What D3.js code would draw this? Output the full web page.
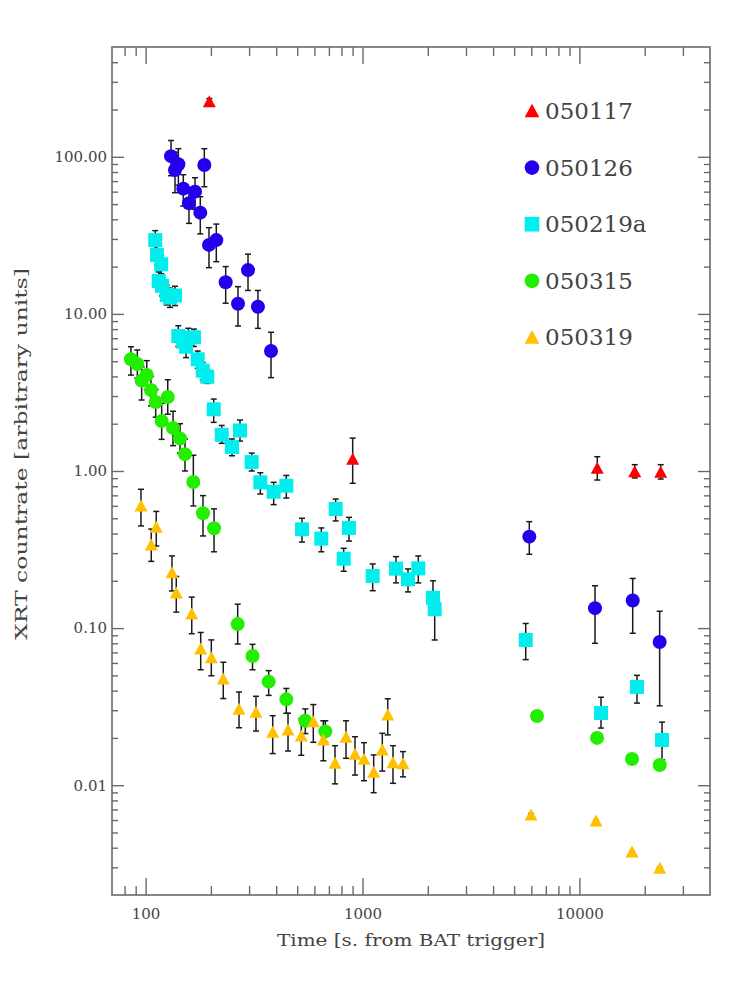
<!DOCTYPE html>
<html><head><meta charset="utf-8">
<script src="https://cdn.jsdelivr.net/npm/d3@7"></script>
<style>html,body{margin:0;padding:0;background:#fff}</style>
</head><body>
<svg id="chart" width="747" height="995"></svg>
<script>
// ---------------- DATA ----------------
const seriesNames = ["050117", "050126", "050219a", "050315", "050319"];
const seriesColors = ["#ff0000", "#2200ee", "#00eeee", "#22ee00", "#ffc000"];
const seriesSymbols = ["triangle", "circle", "square", "circle", "triangle"];

// 050117
const t050117 = [196.7, 901, 12090, 17990, 23700];
const v050117 = [224, 1.187, 1.04, 0.99, 0.981];
const lo050117 = [214, 0.835, 0.876, 0.903, 0.889];
const hi050117 = [235, 1.62, 1.233, 1.097, 1.097];

// 050126
const t050126 = [131, 141.6, 136.6, 186.5, 149.2, 169, 158.5, 178.7, 196, 211.8, 234, 296.6, 266.7, 329.6, 378.6, 5875, 11800, 17610, 23440];
const v050126 = [101, 89.6, 82.4, 88.7, 62.7, 60, 50.6, 44.1, 27.5, 29.5, 15.9, 19.0, 11.6, 11.1, 5.8, 0.382, 0.134, 0.150, 0.0815];
const lo050126 = [75.8, 66, 59.1, 64.5, 48.6, 46.3, 37.7, 32.3, 19.7, 21.5, 11.7, 14.1, 8.37, 8.09, 3.93, 0.295, 0.080, 0.0927, 0.032];
const hi050126 = [127, 112.6, 107, 112.6, 76.9, 73.6, 62.7, 55.7, 35.4, 37.3, 20, 24, 14.9, 14.1, 7.64, 0.476, 0.186, 0.207, 0.128];

// 050219a
const t050219a = [110.8, 112.9, 118.1, 114.9, 119, 125.1, 129.6, 136.6, 141.5, 149.2, 157.4, 167.1, 153.6, 173.9, 183.4, 192.5, 206.1, 224.4, 272.4, 250.2, 308.4, 338, 389.5, 445.4, 526.1, 645.7, 752.2, 866.6, 819, 1114, 1427, 1621, 1808, 2113, 2152, 5655, 12580, 18430, 24040];
const v050219a = [29.5, 23.7, 20.7, 16.2, 15.1, 13.2, 12.7, 13.1, 7.23, 6.65, 7.0, 7.1, 6.18, 5.14, 4.35, 3.98, 2.47, 1.70, 1.81, 1.42, 1.14, 0.847, 0.738, 0.806, 0.4255, 0.371, 0.573, 0.434, 0.2765, 0.2146, 0.239, 0.2045, 0.240, 0.156, 0.1317, 0.084, 0.0288, 0.0422, 0.0194];
const lo050219a = [25.5, 20.5, 18, 14, 13, 11.4, 11, 11.3, 6.2, 5.7, 6.0, 6.2, 5.27, 4.5, 3.8, 3.61, 2.04, 1.5, 1.55, 1.25, 1.0, 0.714, 0.611, 0.673, 0.353, 0.306, 0.481, 0.358, 0.23, 0.173, 0.194, 0.170, 0.194, 0.124, 0.084, 0.063, 0.0231, 0.0333, 0.0145];
const hi050219a = [33.9, 27, 23.5, 18.5, 17.3, 15.2, 14.6, 15, 8.41, 7.7, 8.1, 8.0, 7.1, 5.8, 4.9, 4.4, 2.87, 1.95, 2.11, 1.6, 1.3, 0.975, 0.847, 0.937, 0.50, 0.434, 0.663, 0.507, 0.322, 0.256, 0.285, 0.238, 0.288, 0.200, 0.16, 0.107, 0.0363, 0.050, 0.0252];

// 050315
const t050315 = [85.6, 91.6, 101.2, 95.9, 105.9, 111.3, 118.6, 126.5, 133.8, 144.1, 151.9, 166, 183.9, 206.8, 265.8, 311.1, 369.4, 445.4, 544.8, 673.8, 6375, 12060, 17480, 23460];
const v050315 = [5.14, 4.80, 4.08, 3.76, 3.28, 2.75, 2.08, 2.96, 1.88, 1.61, 1.28, 0.851, 0.538, 0.432, 0.106, 0.0665, 0.0456, 0.0352, 0.0257, 0.0220, 0.0276, 0.0200, 0.01468, 0.01345];
const lo050315 = [4.08, 3.9, 3.3, 2.83, 2.6, 2.2, 1.59, 2.3, 1.45, 1.3, 1.0, 0.599, 0.386, 0.306, 0.0792, 0.0543, 0.0373, 0.0287, 0.0213, 0.0188, 0.0266, 0.0194, 0.0143, 0.0131];
const hi050315 = [6.18, 5.89, 5.04, 4.6, 4.0, 3.3, 2.7, 3.81, 2.4, 2.0, 1.6, 1.26, 0.697, 0.574, 0.142, 0.0788, 0.0536, 0.0413, 0.0306, 0.0257, 0.0286, 0.0206, 0.0151, 0.0138];

// 050319
const t050319 = [95.2, 112, 106.2, 132.3, 138.5, 163.2, 179.5, 200.9, 228.1, 269.6, 322.8, 385.5, 453.5, 522.2, 593.2, 659.8, 746.8, 839.3, 923.5, 1016, 1126, 1234, 1307, 1382, 1537, 5983, 11930, 17480, 23460];
const v050319 = [0.599, 0.438, 0.338, 0.2253, 0.1673, 0.1230, 0.0736, 0.0648, 0.0474, 0.0304, 0.0291, 0.0217, 0.02245, 0.02056, 0.02536, 0.0194, 0.01378, 0.0202, 0.01573, 0.01462, 0.01208, 0.01675, 0.028, 0.0139, 0.0137, 0.00646, 0.00592, 0.003757, 0.00296];
const lo050319 = [0.447, 0.333, 0.266, 0.1724, 0.1264, 0.0921, 0.0543, 0.0497, 0.0356, 0.0232, 0.0221, 0.0159, 0.0165, 0.0155, 0.01875, 0.0143, 0.0102, 0.01483, 0.0116, 0.01068, 0.00896, 0.0123, 0.0209, 0.01028, 0.0113, 0.0063, 0.0058, 0.0037, 0.00292];
const hi050319 = [0.765, 0.553, 0.427, 0.288, 0.2131, 0.1575, 0.0938, 0.0841, 0.0606, 0.0392, 0.0368, 0.0277, 0.0287, 0.0265, 0.0326, 0.0257, 0.01784, 0.0257, 0.02035, 0.01865, 0.01557, 0.0214, 0.0355, 0.01784, 0.01636, 0.0066, 0.0060, 0.0038, 0.0030];

// axes
const xDomain = [70, 40000];
const yDomain = [0.002, 500];
const xMajorTicks = [100, 1000, 10000];
const xMinorTicks = [80, 90, 200, 300, 400, 500, 600, 700, 800, 900, 2000, 3000, 4000, 5000, 6000, 7000, 8000, 9000, 20000, 30000];
const yMajorTicks = [0.01, 0.1, 1, 10, 100];
const yMinorTicks = [0.003, 0.004, 0.005, 0.006, 0.007, 0.008, 0.009, 0.02, 0.03, 0.04, 0.05, 0.06, 0.07, 0.08, 0.09, 0.2, 0.3, 0.4, 0.5, 0.6, 0.7, 0.8, 0.9, 2, 3, 4, 5, 6, 7, 8, 9, 20, 30, 40, 50, 60, 70, 80, 90, 200, 300, 400];
const xTitle = "Time [s. from BAT trigger]";
const yTitle = "XRT countrate [arbitrary units]";

// -------------- BUILD ----------------
const series = [
  {name: seriesNames[0], t: t050117, v: v050117, lo: lo050117, hi: hi050117},
  {name: seriesNames[1], t: t050126, v: v050126, lo: lo050126, hi: hi050126},
  {name: seriesNames[2], t: t050219a, v: v050219a, lo: lo050219a, hi: hi050219a},
  {name: seriesNames[3], t: t050315, v: v050315, lo: lo050315, hi: hi050315},
  {name: seriesNames[4], t: t050319, v: v050319, lo: lo050319, hi: hi050319}
].map((s, i) => ({...s, color: seriesColors[i], symbol: seriesSymbols[i],
  points: s.t.map((t, j) => ({t, v: s.v[j], lo: s.lo[j], hi: s.hi[j]}))}));

const X0 = 112, X1 = 710, Y0 = 47, Y1 = 895;
const svg = d3.select("#chart");
const x = d3.scaleLog().domain(xDomain).range([X0, X1]);
const y = d3.scaleLog().domain(yDomain).range([Y1, Y0]);
const axisColor = "#6a6a6a";
const textColor = "#444";
const FONT = "'DejaVu Serif', serif";

function styleAxis(g) {
  g.select(".domain").remove();
  g.selectAll("line").attr("stroke", axisColor).attr("stroke-width", 1.4);
  g.attr("font-family", FONT).attr("font-size", 15);
  g.selectAll("text").attr("fill", textColor);
}

// bottom
svg.append("g").attr("transform", `translate(0,${Y1})`)
  .call(d3.axisBottom(x).tickValues(xMajorTicks).tickSize(-17).tickPadding(13).tickFormat(d3.format("d"))).call(styleAxis);
svg.append("g").attr("transform", `translate(0,${Y1})`)
  .call(d3.axisBottom(x).tickValues(xMinorTicks).tickSize(-9).tickFormat("")).call(styleAxis);
// top
svg.append("g").attr("transform", `translate(0,${Y0})`)
  .call(d3.axisTop(x).tickValues(xMajorTicks).tickSize(-17).tickFormat("")).call(styleAxis);
svg.append("g").attr("transform", `translate(0,${Y0})`)
  .call(d3.axisTop(x).tickValues(xMinorTicks).tickSize(-9).tickFormat("")).call(styleAxis);
// left
svg.append("g").attr("transform", `translate(${X0},0)`)
  .call(d3.axisLeft(y).tickValues(yMajorTicks).tickSize(-12).tickPadding(5).tickFormat(d3.format(".2f"))).call(styleAxis);
svg.append("g").attr("transform", `translate(${X0},0)`)
  .call(d3.axisLeft(y).tickValues(yMinorTicks).tickSize(-6).tickFormat("")).call(styleAxis);
// right
svg.append("g").attr("transform", `translate(${X1},0)`)
  .call(d3.axisRight(y).tickValues(yMajorTicks).tickSize(-12).tickFormat("")).call(styleAxis);
svg.append("g").attr("transform", `translate(${X1},0)`)
  .call(d3.axisRight(y).tickValues(yMinorTicks).tickSize(-6).tickFormat("")).call(styleAxis);

// frame
svg.append("rect").attr("x", X0).attr("y", Y0).attr("width", X1 - X0).attr("height", Y1 - Y0)
  .attr("fill", "none").attr("stroke", axisColor).attr("stroke-width", 1.6);

// titles
svg.append("text").attr("x", (X0 + X1) / 2).attr("y", 946)
  .attr("text-anchor", "middle").attr("font-family", FONT).attr("font-size", 16).attr("fill", textColor)
  .attr("textLength", 268).attr("lengthAdjust", "spacingAndGlyphs").text(xTitle);
svg.append("text").attr("transform", `translate(27,454) rotate(-90)`)
  .attr("text-anchor", "middle").attr("font-family", FONT).attr("font-size", 16).attr("fill", textColor)
  .attr("textLength", 372).attr("lengthAdjust", "spacingAndGlyphs").text(yTitle);

// symbols
function symbolPath(type, s) {
  const h = s / 2;
  if (type === "triangle") return `M0,${-h}L${h},${h * 0.85}L${-h},${h * 0.85}Z`;
  if (type === "square") return `M${-h},${-h}H${h}V${h}H${-h}Z`;
  return d3.symbol().type(d3.symbolCircle).size(Math.PI * h * h)();
}

// error bars
const plot = svg.append("g");
series.forEach(s => {
  const g = plot.append("g");
  g.selectAll("g.eb").data(s.points).join("g").attr("class", "eb").each(function (d) {
    const e = d3.select(this);
    const cx = x(d.t);
    e.append("line").attr("x1", cx).attr("x2", cx).attr("y1", y(d.lo)).attr("y2", y(d.hi))
      .attr("stroke", "#1a1a1a").attr("stroke-width", 1.5);
    [d.lo, d.hi].forEach(val => {
      e.append("line").attr("x1", cx - 3).attr("x2", cx + 3).attr("y1", y(val)).attr("y2", y(val))
        .attr("stroke", "#1a1a1a").attr("stroke-width", 1.5);
    });
  });
});
series.forEach(s => {
  plot.append("g").selectAll("path").data(s.points).join("path")
    .attr("transform", d => `translate(${x(d.t)},${y(d.v)})`)
    .attr("d", symbolPath(s.symbol, s.symbol === "triangle" ? 13 : 14))
    .attr("fill", s.color);
});

// legend
const legendX = 532, legendY0 = 111, legendDy = 56.6;
series.forEach((s, i) => {
  const ly = legendY0 + i * legendDy;
  svg.append("path").attr("transform", `translate(${legendX},${ly})`)
    .attr("d", symbolPath(s.symbol, 14.7)).attr("fill", s.color);
  svg.append("text").attr("x", 545).attr("y", ly + 8)
    .attr("font-family", FONT).attr("font-size", 23).attr("fill", textColor).text(s.name);
});
</script>
</body></html>
